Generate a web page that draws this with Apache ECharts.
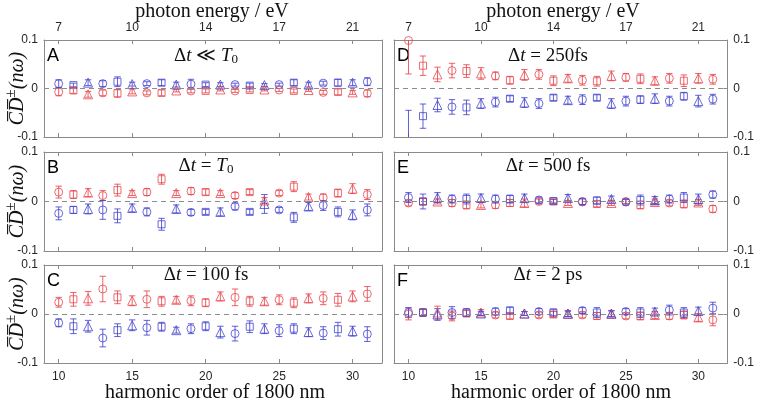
<!DOCTYPE html>
<html><head><meta charset="utf-8">
<script src="https://cdn.jsdelivr.net/npm/echarts@6/dist/echarts.min.js"></script>
<style>html,body{margin:0;padding:0;background:#fff}#c{width:757px;height:404px}</style>
</head><body><div id="c"></div>
<script>
// ---------------- DATA ----------------
const harmonics = [10,11,12,13,14,15,16,17,18,19,20,21,22,23,24,25,26,27,28,29,30,31];
const bottomTicks = [10,15,20,25,30];
const bottomTickLabels = ['10','15','20','25','30'];
const topTickLabels = ['7','10','14','17','21'];   // photon energy (eV) at harmonics 10,15,20,25,30
const yTicks = [-0.1, 0, 0.1];
const yTickLabels = ['-0.1','0','0.1'];
const panelLetters = ['A','B','C','D','E','F'];

// Panel A: Δt << T0
const aRed     = [-0.007,-0.004,-0.012,-0.009,-0.010,-0.006,-0.009,-0.009,-0.004,-0.005,-0.005,-0.002,-0.005,-0.003,-0.002,-0.003,-0.005,-0.003,-0.008,-0.007,-0.008,-0.010];
const aRedErr  = [0.008,0.006,0.006,0.006,0.008,0.005,0.004,0.006,0.003,0.004,0.004,0.003,0.003,0.004,0.003,0.003,0.004,0.003,0.004,0.006,0.004,0.007];
const aBlue    = [0.010,0.007,0.012,0.010,0.014,0.009,0.010,0.012,0.008,0.009,0.008,0.008,0.008,0.006,0.007,0.008,0.012,0.008,0.011,0.012,0.012,0.014];
const aBlueErr = [0.008,0.004,0.006,0.006,0.010,0.004,0.004,0.006,0.005,0.010,0.004,0.004,0.003,0.005,0.003,0.003,0.006,0.005,0.004,0.007,0.006,0.008];
// Panel B: Δt = T0
const bRed     = [0.019,0.014,0.018,0.012,0.023,0.017,0.019,0.045,0.017,0.021,0.019,0.017,0.012,0.019,0.002,0.017,0.030,0.009,0.008,0.017,0.026,0.014];
const bRedErr  = [0.012,0.008,0.008,0.010,0.012,0.005,0.007,0.010,0.005,0.007,0.006,0.005,0.006,0.005,0.006,0.005,0.010,0.006,0.007,0.008,0.010,0.010];
const bBlue    = [-0.024,-0.017,-0.015,-0.017,-0.029,-0.013,-0.021,-0.046,-0.015,-0.022,-0.021,-0.021,-0.010,-0.021,-0.005,-0.017,-0.032,-0.010,-0.008,-0.021,-0.027,-0.017];
const bBlueErr = [0.013,0.007,0.010,0.019,0.014,0.008,0.008,0.012,0.008,0.006,0.005,0.008,0.007,0.005,0.019,0.005,0.010,0.008,0.010,0.010,0.010,0.012];
// Panel C: Δt = 100 fs
const cRed     = [0.024,0.030,0.032,0.051,0.034,0.027,0.030,0.026,0.029,0.027,0.023,0.036,0.034,0.026,0.026,0.029,0.023,0.032,0.032,0.029,0.036,0.041];
const cRedErr  = [0.010,0.014,0.014,0.026,0.013,0.010,0.017,0.010,0.007,0.010,0.008,0.009,0.017,0.010,0.008,0.010,0.010,0.009,0.013,0.013,0.011,0.015];
const cBlue    = [-0.018,-0.025,-0.025,-0.049,-0.033,-0.023,-0.028,-0.026,-0.033,-0.030,-0.025,-0.037,-0.040,-0.026,-0.030,-0.034,-0.030,-0.037,-0.039,-0.031,-0.035,-0.041];
const cBlueErr = [0.008,0.015,0.012,0.018,0.013,0.011,0.015,0.009,0.006,0.010,0.009,0.012,0.015,0.012,0.010,0.012,0.010,0.009,0.013,0.014,0.010,0.015];
// Panel D: Δt = 250 fs
const dRed     = [0.099,0.047,0.029,0.037,0.036,0.031,0.026,0.017,0.028,0.029,0.016,0.021,0.017,0.015,0.026,0.023,0.020,0.016,0.021,0.016,0.021,0.019];
const dRedErr  = [0.069,0.020,0.015,0.015,0.013,0.012,0.008,0.008,0.011,0.010,0.010,0.008,0.010,0.010,0.010,0.008,0.010,0.008,0.010,0.012,0.010,0.010];
const dBlue    = [-0.115,-0.057,-0.034,-0.038,-0.039,-0.031,-0.028,-0.021,-0.029,-0.031,-0.019,-0.024,-0.023,-0.019,-0.031,-0.026,-0.023,-0.021,-0.026,-0.016,-0.026,-0.022];
const dBlueErr = [0.070,0.025,0.014,0.015,0.015,0.010,0.010,0.006,0.010,0.010,0.006,0.008,0.010,0.006,0.010,0.010,0.008,0.010,0.010,0.008,0.012,0.010];
// Panel E: Δt = 500 fs
const eRed     = [-0.003,0.000,0.000,-0.003,-0.007,-0.007,-0.007,-0.003,-0.003,0.000,0.000,-0.003,-0.001,-0.005,-0.003,0.000,-0.007,-0.001,-0.003,-0.005,-0.002,-0.015];
const eRedErr  = [0.006,0.006,0.005,0.007,0.008,0.006,0.007,0.007,0.008,0.005,0.004,0.005,0.006,0.006,0.005,0.004,0.008,0.006,0.006,0.008,0.006,0.007];
const eBlue    = [0.008,0.000,0.008,0.005,0.005,0.007,0.005,0.005,0.007,0.003,0.001,0.007,0.000,0.002,0.005,-0.001,0.003,0.003,0.005,0.008,0.005,0.014];
const eBlueErr = [0.010,0.015,0.010,0.008,0.010,0.008,0.008,0.008,0.008,0.006,0.004,0.007,0.006,0.007,0.006,0.006,0.010,0.007,0.008,0.010,0.010,0.007];
// Panel F: Δt = 2 ps
const fRed     = [0.000,0.003,0.003,-0.004,0.001,0.003,-0.002,-0.004,0.001,-0.002,-0.001,0.000,-0.002,-0.004,0.000,-0.004,-0.004,-0.002,-0.004,-0.002,-0.007,-0.012];
const fRedErr  = [0.012,0.006,0.013,0.010,0.006,0.006,0.006,0.006,0.004,0.006,0.006,0.005,0.006,0.007,0.006,0.006,0.008,0.007,0.007,0.008,0.008,0.012];
const fBlue    = [0.003,0.003,-0.001,0.003,0.003,0.001,0.005,0.007,0.001,0.005,0.003,0.001,0.007,0.003,0.001,0.005,0.003,0.005,0.008,0.003,0.006,0.012];
const fBlueErr = [0.010,0.008,0.012,0.012,0.008,0.004,0.007,0.007,0.004,0.006,0.007,0.006,0.006,0.010,0.006,0.006,0.010,0.007,0.010,0.010,0.008,0.012];

// ---------------- STYLE / LAYOUT ----------------
const RED = '#e8474f', BLUE = '#4444d0', AXC = '#8a8a8a', TXT = '#262626';
const SANS = 'Liberation Sans, Arial, sans-serif';
const SERIF = 'Liberation Serif, DejaVu Serif, serif';
const panels = [
  {red:aRed, redErr:aRedErr, blue:aBlue, blueErr:aBlueErr},
  {red:bRed, redErr:bRedErr, blue:bBlue, blueErr:bBlueErr},
  {red:cRed, redErr:cRedErr, blue:cBlue, blueErr:cBlueErr},
  {red:dRed, redErr:dRedErr, blue:dBlue, blueErr:dBlueErr},
  {red:eRed, redErr:eRedErr, blue:eBlue, blueErr:eBlueErr},
  {red:fRed, redErr:fRedErr, blue:fBlue, blueErr:fBlueErr}
];
const colLeft = [44, 394], colWidth = [338, 339];
const rowTop = [40, 152, 265], rowHeight = [97, 99, 98];
const markerCycle = {1:'circle', 2:'rect', 0:'triangle'};
const markerSize = {circle:8, rect:7, triangle:9};

const grids = [], xAxes = [], yAxes = [], series = [], graphics = [];
panels.forEach((p, i) => {
  const col = Math.floor(i/3), row = i%3;
  grids.push({left: colLeft[col], top: rowTop[row], width: colWidth[col], height: rowHeight[row], show:false});
  const tickBase = {show:true, inside:true, length:4, customValues: bottomTicks, lineStyle:{color:AXC}};
  xAxes.push({type:'value', gridIndex:i, position:'bottom', min:9, max:32,
    axisLine:{show:true, onZero:false, lineStyle:{color:AXC}}, axisTick:tickBase, splitLine:{show:false},
    axisLabel:{show: row===2, customValues: bottomTicks, color:TXT, fontFamily:SANS, fontSize:12, margin:8,
      formatter: v => bottomTickLabels[bottomTicks.indexOf(v)]}});
  xAxes.push({type:'value', gridIndex:i, position:'top', min:9, max:32,
    axisLine:{show:true, onZero:false, lineStyle:{color:AXC}}, axisTick:tickBase, splitLine:{show:false},
    axisLabel:{show: row===0, customValues: bottomTicks, color:TXT, fontFamily:SANS, fontSize:12, margin:6,
      formatter: v => topTickLabels[bottomTicks.indexOf(v)]}});
  const yTick = {show:true, inside:true, length:4, customValues: yTicks, lineStyle:{color:AXC}};
  const yLab = v => { let k = yTicks.findIndex(t => Math.abs(t - v) < 1e-9); return k < 0 ? '' : yTickLabels[k]; };
  yAxes.push({type:'value', gridIndex:i, position:'left', min:-0.1, max:0.1, interval:0.1,
    axisLine:{show:true, onZero:false, lineStyle:{color:AXC}}, axisTick:yTick, splitLine:{show:false},
    axisLabel:{show: col===0, customValues: yTicks, color:TXT, fontFamily:SANS, fontSize:12, margin:6, formatter:yLab}});
  yAxes.push({type:'value', gridIndex:i, position:'right', min:-0.1, max:0.1, interval:0.1,
    axisLine:{show:true, onZero:false, lineStyle:{color:AXC}}, axisTick:yTick, splitLine:{show:false},
    axisLabel:{show: col===1, customValues: yTicks, color:TXT, fontFamily:SANS, fontSize:12, margin:6, formatter:yLab}});

  [[p.red, p.redErr, RED], [p.blue, p.blueErr, BLUE]].forEach(([vals, errs, color], si) => {
    const errData = harmonics.map((h, k) => [h, vals[k], errs[k]]);
    series.push({type:'custom', xAxisIndex:2*i, yAxisIndex:2*i, clip:true, silent:true, z:2,
      data: errData,
      renderItem: (params, api) => {
        const x = api.value(0), y = api.value(1), e = api.value(2);
        const hi = api.coord([x, y + e]), lo = api.coord([x, y - e]);
        const cap = 3.2, st = {stroke: color, lineWidth: 1, opacity: 0.85};
        return {type:'group', children:[
          {type:'line', shape:{x1:hi[0], y1:hi[1], x2:lo[0], y2:lo[1]}, style:st},
          {type:'line', shape:{x1:hi[0]-cap, y1:hi[1], x2:hi[0]+cap, y2:hi[1]}, style:st},
          {type:'line', shape:{x1:lo[0]-cap, y1:lo[1], x2:lo[0]+cap, y2:lo[1]}, style:st}
        ]};
      }});
    const sData = harmonics.map((h, k) => {
      const sym = markerCycle[h % 3];
      return {value:[h, vals[k]], symbol: sym, symbolSize: markerSize[sym]};
    });
    const sc = {type:'scatter', xAxisIndex:2*i, yAxisIndex:2*i, clip:true, silent:true, z:3,
      data: sData, itemStyle:{color:'rgba(0,0,0,0)', borderColor: color, borderWidth: 1}};
    if (si === 0) {
      sc.markLine = {silent:true, symbol:'none', label:{show:false}, animation:false,
        lineStyle:{type:[5,4], color:'#8c8c8c', width:1}, data:[{yAxis:0}]};
    }
    series.push(sc);
  });
});

// panel letters and titles
const titles = [
  '{n|Δ}{i|t}{n| ≪ }{i|T}{s|0}',
  '{n|Δ}{i|t}{n| = }{i|T}{s|0}',
  '{n|Δ}{i|t}{n| = 100 fs}',
  '{n|Δ}{i|t}{n| = 250fs}',
  '{n|Δ}{i|t}{n| = 500 fs}',
  '{n|Δ}{i|t}{n| = 2 ps}'
];
const titleRich = {
  n:{fontFamily:SERIF, fontSize:19, fill:'#111'},
  i:{fontFamily:SERIF, fontStyle:'italic', fontSize:19, fill:'#111'},
  s:{fontFamily:SERIF, fontSize:13, fill:'#111', padding:[8,0,0,0]}
};
const titleY = [56, 166, 275];
const titleX = [206, 548];
panelLetters.forEach((L, i) => {
  const col = Math.floor(i/3), row = i%3;
  graphics.push({type:'text', x: colLeft[col] + 3, y: rowTop[row] + 7, silent:true,
    style:{text:L, font:'18px ' + SANS, fill:'#000'}});
  graphics.push({type:'text', x: titleX[col], y: titleY[row], silent:true,
    style:{text:titles[i], rich:titleRich, align:'center', verticalAlign:'middle'}});
});
// y labels (left column)
[0,1,2].forEach(row => {
  graphics.push({type:'text', x: 16, y: rowTop[row] + rowHeight[row]/2, rotation: Math.PI/2, silent:true,
    style:{text:'{c|C\u0305D\u0305}{p|±}{c|(nω)}', align:'center', verticalAlign:'middle',
      rich:{c:{fontFamily:SERIF, fontStyle:'italic', fontSize:20, fill:'#111', verticalAlign:'bottom', lineHeight:24},
            p:{fontFamily:SERIF, fontSize:15, fill:'#111', verticalAlign:'top', lineHeight:24}}}});
});
// column titles
[212, 563].forEach(x => {
  graphics.push({type:'text', x: x, y: 12, silent:true,
    style:{text:'photon energy / eV', font:'20px ' + SERIF, fill:'#111', align:'center', verticalAlign:'middle'}});
});
[215, 561].forEach(x => {
  graphics.push({type:'text', x: x, y: 393, silent:true,
    style:{text:'harmonic order of 1800 nm', font:'20px ' + SERIF, fill:'#111', align:'center', verticalAlign:'middle'}});
});

const chart = echarts.init(document.getElementById('c'), null, {renderer:'canvas'});
chart.setOption({animation:false, grid:grids, xAxis:xAxes, yAxis:yAxes, series:series, graphic:graphics});
</script></body></html>
